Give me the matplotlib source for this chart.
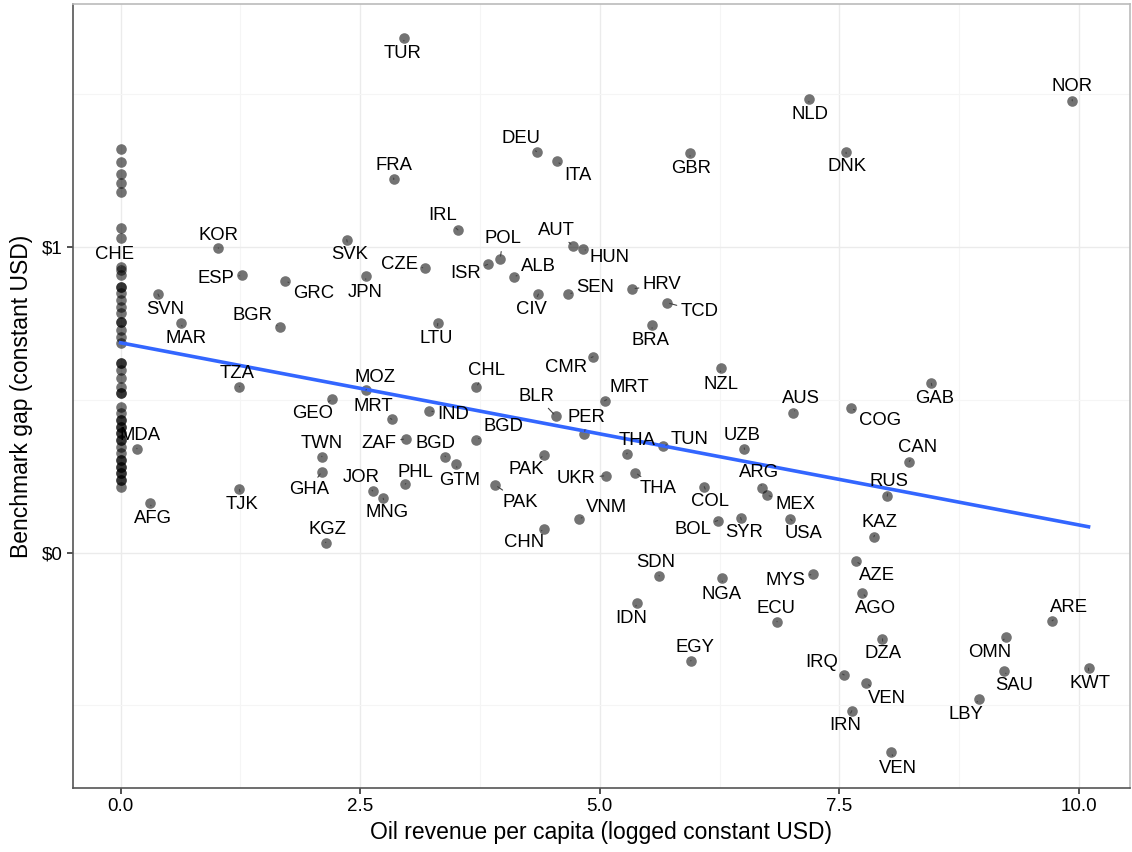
import numpy as np
import matplotlib
matplotlib.use("Agg")
import matplotlib.pyplot as plt
from matplotlib.ticker import MultipleLocator, FuncFormatter

plt.rcParams['font.family'] = ['Liberation Sans', 'DejaVu Sans']

# === Data: labelled countries ===
iso = ['TUR', 'FRA', 'IRL', 'KOR', 'SVK', 'CZE', 'ESP', 'GRC', 'JPN', 'CHE',
       'SVN', 'MAR', 'BGR', 'LTU', 'TZA', 'MOZ', 'GEO', 'MRT', 'IND', 'MDA',
       'TWN', 'ZAF', 'BGD', 'GTM', 'GHA', 'PHL', 'JOR', 'MNG', 'TJK', 'AFG',
       'KGZ', 'DEU', 'ITA', 'GBR', 'NLD', 'POL', 'ISR', 'ALB', 'AUT', 'HUN',
       'SEN', 'HRV', 'CIV', 'DNK', 'NOR', 'TCD', 'BRA', 'CMR', 'NZL', 'CHL',
       'MRT', 'BLR', 'PER', 'BGD', 'THA', 'TUN', 'UZB', 'AUS', 'PAK', 'UKR',
       'THA', 'PAK', 'COL', 'ARG', 'MEX', 'VNM', 'CHN', 'BOL', 'SYR', 'USA',
       'GAB', 'COG', 'CAN', 'RUS', 'KAZ', 'SDN', 'NGA', 'MYS', 'IDN', 'ECU',
       'EGY', 'IRQ', 'AZE', 'AGO', 'DZA', 'VEN', 'IRN', 'VEN', 'ARE', 'OMN',
       'SAU', 'KWT', 'LBY']

oil = [2.96, 2.85, 3.52, 1.02, 2.36, 3.18, 1.27, 1.72, 2.56, 0.0,
       0.39, 0.63, 1.66, 3.31, 1.24, 2.56, 2.21, 2.83, 3.22, 0.17,
       2.10, 2.98, 3.39, 3.50, 2.10, 2.97, 2.63, 2.74, 1.24, 0.31,
       2.14, 4.34, 4.55, 5.94, 7.18, 3.96, 3.83, 4.10, 4.72, 4.82,
       4.67, 5.34, 4.36, 7.57, 9.93, 5.70, 5.55, 4.93, 6.26, 3.71,
       5.05, 4.54, 4.84, 3.71, 5.28, 5.66, 6.51, 7.02, 4.42, 5.07,
       5.37, 3.91, 6.09, 6.69, 6.74, 4.78, 4.42, 6.23, 6.47, 6.99,
       8.46, 7.62, 8.23, 8.00, 7.86, 5.62, 6.28, 7.23, 5.39, 6.85,
       5.95, 7.55, 7.67, 7.74, 7.95, 7.78, 7.63, 8.04, 9.72, 9.24,
       9.22, 10.10, 8.96]

gap = [1.685, 1.221, 1.056, 0.996, 1.024, 0.931, 0.907, 0.889, 0.905, 0.936,
       0.846, 0.752, 0.739, 0.750, 0.543, 0.532, 0.503, 0.436, 0.464, 0.340,
       0.314, 0.373, 0.314, 0.290, 0.265, 0.224, 0.202, 0.178, 0.207, 0.164,
       0.033, 1.312, 1.280, 1.308, 1.485, 0.961, 0.943, 0.902, 1.003, 0.993,
       0.846, 0.863, 0.846, 1.310, 1.478, 0.818, 0.745, 0.641, 0.603, 0.541,
       0.497, 0.447, 0.388, 0.369, 0.323, 0.350, 0.338, 0.456, 0.320, 0.252,
       0.262, 0.221, 0.216, 0.211, 0.189, 0.110, 0.078, 0.105, 0.115, 0.110,
       0.554, 0.472, 0.298, 0.185, 0.052, -0.076, -0.084, -0.070, -0.164, -0.226,
       -0.354, -0.400, -0.027, -0.131, -0.282, -0.427, -0.517, -0.653, -0.223, -0.277,
       -0.387, -0.378, -0.480]

# unlabelled countries with no oil revenue (x = 0)
zero_gap = [1.320, 1.279, 1.239, 1.208, 1.181, 1.061, 1.028, 0.925, 0.908,
            0.870, 0.870, 0.849, 0.827, 0.805, 0.783, 0.756, 0.756, 0.728,
            0.707, 0.685, 0.620, 0.620, 0.598, 0.570, 0.543, 0.521, 0.521,
            0.478, 0.456, 0.434, 0.434, 0.412, 0.412, 0.391, 0.391, 0.369,
            0.369, 0.347, 0.325, 0.303, 0.303, 0.281, 0.281,
            0.259, 0.259, 0.238, 0.238, 0.216]

# label offsets from their point, in pixels (repel layout)
label_dx = [-2, 0, -15, 0, 3, -26, -26, 28, -1, -6,
            7, 5, -27, -2, -2, 9, -20, -18, 24, 3,
            0, -27, -10, 4, -13, 10, -11, 4, 3, 3,
            2, -16, 21, 1, 1, 3, -22, 25, -17, 27,
            27, 30, -7, 1, 0, 33, -2, -27, 0, 10,
            25, -19, 2, 27, 11, 27, -2, 8, -18, -30,
            23, 25, 6, -3, 29, 28, -20, -25, 4, 13,
            3, 29, 8, 2, 6, -3, -1, -28, -6, -1,
            4, -22, 21, 13, 1, 21, -7, 7, 17, -16,
            10, 1, -13]
label_dy = [16, -14, -14, -13, 15, -4, 3, 13, 16, -12,
            15, 16, -11, 15, -13, -13, 15, -13, 4, -13,
            -13, 5, -13, 16, 18, -12, -13, 14, 15, 16,
            -13, -13, 14, 16, 16, -20, 9, -10, -16, 8,
            -7, -4, 15, 14, -14, 9, 16, 11, 16, -17,
            -13, -20, -17, -13, -13, -6, -14, -15, 15, 3,
            16, 17, 15, -16, 10, -12, 14, 9, 15, 14,
            15, 12, -14, -15, -14, -13, 16, 6, 16, -13,
            -13, -12, 15, 16, 15, 15, 15, 16, -13, 15,
            15, 15, 15]

# === Figure ===
fig = plt.figure(figsize=(11.32, 8.52), dpi=100)
ax = fig.add_axes([0.0642, 0.0751, 0.9338, 0.9202])

x_all = np.concatenate([oil, np.zeros(len(zero_gap))])
y_all = np.concatenate([gap, zero_gap])

ax.scatter(x_all, y_all, s=58, color='black', alpha=0.55, linewidths=0,
           zorder=3)

# linear fit
coef = np.polyfit(x_all, y_all, 1)
xs = np.array([x_all.min(), x_all.max()])
ax.plot(xs, np.polyval(coef, xs), color='#3366FF', lw=2.6, zorder=4)

for name, xv, yv, dx, dy in zip(iso, oil, gap, label_dx, label_dy):
    ax.annotate(name, (xv, yv), xytext=(dx, -dy), textcoords='offset pixels',
                ha='center', va='center', fontsize=13.3, color='black',
                zorder=5,
                arrowprops=dict(arrowstyle='-', color='#444444', lw=0.8,
                                shrinkA=1, shrinkB=2))

ax.set_xlim(-0.5, 10.53)
ax.set_ylim(-0.77, 1.795)

ax.xaxis.set_major_locator(MultipleLocator(2.5))
ax.xaxis.set_minor_locator(MultipleLocator(1.25))
ax.yaxis.set_major_locator(MultipleLocator(1))
ax.yaxis.set_minor_locator(MultipleLocator(0.5))
ax.xaxis.set_major_formatter(FuncFormatter(lambda v, p: f"{v:.1f}"))
ax.yaxis.set_major_formatter(FuncFormatter(lambda v, p: f"${v:.0f}"))

ax.grid(which='major', color='#EBEBEB', lw=1.0, zorder=0)
ax.grid(which='minor', color='#F5F5F5', lw=0.8, zorder=0)
ax.set_axisbelow(True)

ax.tick_params(which='major', length=4, width=1.2, color='#333333',
               labelsize=13.5, labelcolor='black')
ax.tick_params(which='minor', length=0)

for side in ['left', 'bottom']:
    ax.spines[side].set_color('#555555')
    ax.spines[side].set_linewidth(1.2)
for side in ['top', 'right']:
    ax.spines[side].set_color('#BBBBBB')
    ax.spines[side].set_linewidth(1.2)

ax.set_xlabel('Oil revenue per capita (logged constant USD)', fontsize=16.5,
              labelpad=4)
ax.set_ylabel('Benchmark gap (constant USD)', fontsize=16.5, labelpad=6)

fig.savefig('out.png', dpi=100)
